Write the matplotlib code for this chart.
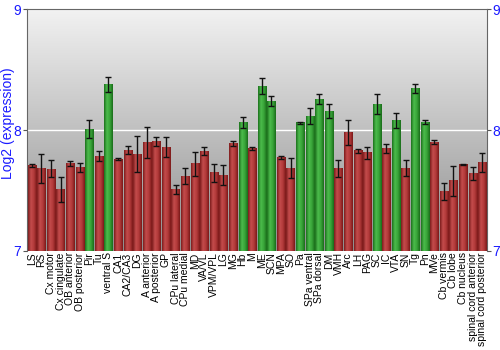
import numpy as np
import matplotlib
matplotlib.use('Agg')
import matplotlib.pyplot as plt
from matplotlib.colors import LinearSegmentedColormap

plt.rcParams['font.family'] = ['Liberation Sans', 'DejaVu Sans']

regioes = ['LS', 'RS', 'Cx motor', 'Cx cingulate', 'OB anterior', 'OB posterior', 'Pir', 'Tu',
           'ventral S', 'CA1', 'CA2/CA3', 'DG', 'A anterior', 'A posterior', 'GP', 'CPu lateral',
           'CPu medial', 'MD', 'VA/VL', 'VPM/VPL', 'LG', 'MG', 'Hb', 'M', 'ME', 'SCN', 'MPA', 'SO',
           'Pa', 'SPa ventral', 'SPa dorsal', 'DM', 'VMH', 'Arc', 'LH', 'PAG', 'SC', 'IC', 'VTA',
           'SN', 'Tg', 'Pn', 'MVe', 'Cb vermis', 'Cb lobe', 'Cb nucleus', 'spinal cord anterior',
           'spinal cord posterior']
expressao = [7.705, 7.683, 7.678, 7.510, 7.725, 7.694, 8.006, 7.785,
             8.378, 7.758, 7.835, 7.802, 7.898, 7.907, 7.860, 7.507,
             7.620, 7.722, 7.826, 7.647, 7.628, 7.890, 8.064, 7.847,
             8.364, 8.240, 7.774, 7.686, 8.060, 8.116, 8.256, 8.157,
             7.683, 7.978, 7.829, 7.812, 8.215, 7.849, 8.079, 7.686,
             8.345, 8.066, 7.901, 7.488, 7.579, 7.713, 7.639, 7.730]
erro = [0.010, 0.120, 0.070, 0.105, 0.020, 0.037, 0.075, 0.045,
        0.060, 0.010, 0.030, 0.150, 0.130, 0.035, 0.085, 0.040,
        0.070, 0.100, 0.030, 0.075, 0.080, 0.020, 0.045, 0.010,
        0.065, 0.040, 0.015, 0.080, 0.010, 0.065, 0.040, 0.055,
        0.070, 0.105, 0.015, 0.050, 0.080, 0.035, 0.065, 0.070,
        0.035, 0.015, 0.015, 0.070, 0.125, 0.005, 0.055, 0.080]
# regiões com expressão alta (verde)
alto = ['Pir', 'ventral S', 'Hb', 'ME', 'SCN', 'Pa', 'SPa ventral', 'SPa dorsal', 'DM',
        'SC', 'VTA', 'Tg', 'Pn']

ymin, ymax = 7, 9
fig = plt.figure(figsize=(5, 3.5), dpi=100)
ax = fig.add_axes([0.054, 0.283, 0.92, 0.691])

# fundo em degradê cinza
fundo = LinearSegmentedColormap.from_list('fundo', ['#8e8e8e', '#f2f2f2'])
grad = np.linspace(0, 1, 256).reshape(-1, 1)
ax.imshow(grad, cmap=fundo, origin='lower', aspect='auto', extent=[0, 1, 0, 1],
          transform=ax.transAxes, zorder=0)

cm_verm = LinearSegmentedColormap.from_list('verm', ['#7c1c1c', '#c44c4c', '#b23a3a', '#7a1818'])
cm_verde = LinearSegmentedColormap.from_list('verde', ['#1c701c', '#4cbc4c', '#38a438', '#1a6c1a'])
faixa = np.linspace(0, 1, 64).reshape(1, -1)

largura = 0.86
x = np.arange(len(regioes))
for i, (r, v) in enumerate(zip(regioes, expressao)):
    cm = cm_verde if r in alto else cm_verm
    ax.imshow(faixa, cmap=cm, aspect='auto', interpolation='bilinear',
              extent=[i - largura / 2, i + largura / 2, ymin, v], zorder=2)

ax.axhline(8, color='white', lw=1, zorder=1)
ax.errorbar(x, expressao, yerr=erro, fmt='none', ecolor='#111111', elinewidth=1,
            capsize=2, capthick=1, zorder=3)

ax.set_xlim(-0.5, len(regioes) - 0.5)
ax.set_ylim(ymin, ymax)
ax.set_xticks(x)
ax.set_xticklabels(regioes, rotation=90, fontsize=7.5)
ax.tick_params(axis='x', length=0, pad=1)
ax.set_yticks([7, 8, 9])
ax.tick_params(axis='y', colors='#555555', labelcolor='#1a1aff', labelsize=10,
               length=3, right=True, labelright=True, pad=1)
ax.set_ylabel('Log2 (expression)', color='#1a1aff', fontsize=10)
ax.yaxis.set_label_coords(-0.026, 0.53)
for lado in ax.spines.values():
    lado.set_color('#666666')
ax.spines['bottom'].set_visible(False)

fig.savefig('out.png', dpi=100)
